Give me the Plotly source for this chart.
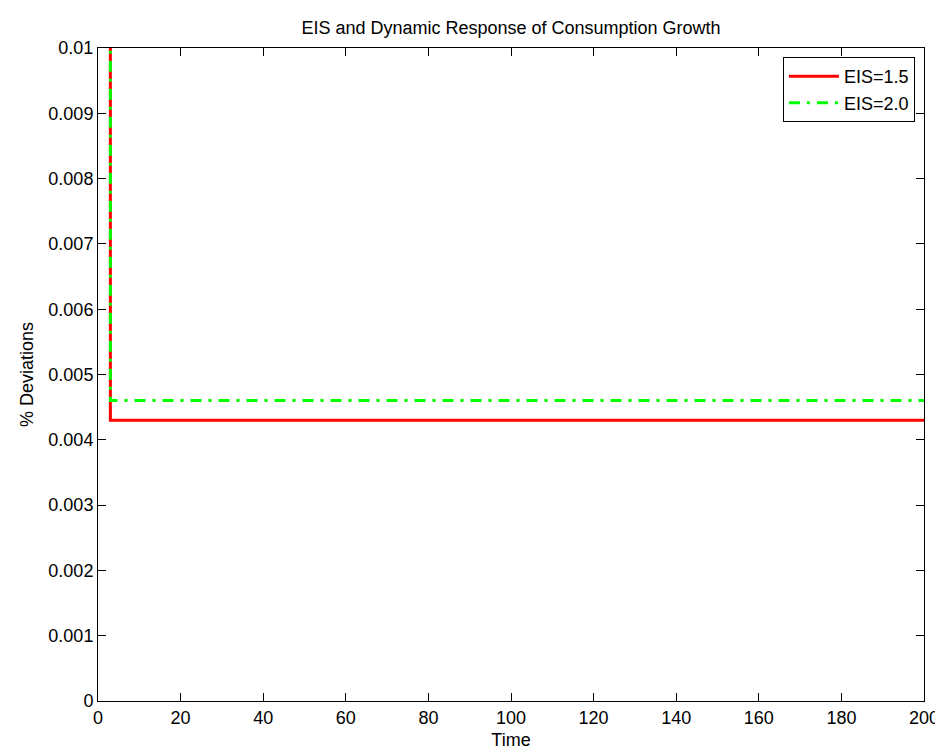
import plotly.graph_objects as go

# Data
time = [2, 3, 200]
eis_15 = [1.0, 0.0043, 0.0043]
eis_20 = [1.0, 0.0046, 0.0046]

x_ticks = [0, 20, 40, 60, 80, 100, 120, 140, 160, 180, 200]
y_ticks = [0, 0.001, 0.002, 0.003, 0.004, 0.005, 0.006, 0.007, 0.008, 0.009, 0.01]
y_tick_labels = ["0", "0.001", "0.002", "0.003", "0.004", "0.005",
                 "0.006", "0.007", "0.008", "0.009", "0.01"]

FONT = "Liberation Sans, Arial, Helvetica, sans-serif"
FS = 18

fig = go.Figure()
fig.add_trace(go.Scatter(
    x=time, y=eis_15, mode="lines", name="EIS=1.5",
    line=dict(color="#FF0000", width=3),
))
fig.add_trace(go.Scatter(
    x=time, y=eis_20, mode="lines", name="EIS=2.0",
    line=dict(color="#00FF00", width=3, dash="11px,7px,3px,7px"),
))

axis_common = dict(
    showgrid=False, zeroline=False,
    showline=True, linecolor="black", linewidth=1, mirror="ticks",
    ticks="inside", ticklen=8, tickcolor="black", tickwidth=1,
    tickfont=dict(family=FONT, size=FS, color="black"),
)

fig.update_layout(
    width=943, height=750,
    paper_bgcolor="white", plot_bgcolor="white",
    margin=dict(l=90, r=20, t=40, b=50),
    font=dict(family=FONT, size=FS, color="black"),
    title=dict(
        text="EIS and Dynamic Response of Consumption Growth",
        x=0.5, xanchor="center", xref="paper",
        y=1 - 20 / 750, yanchor="middle", yref="container",
        font=dict(family=FONT, size=FS, color="black"),
    ),
    xaxis=dict(
        range=[0, 200], tickvals=x_ticks,
        title=dict(text="Time", standoff=6, font=dict(family=FONT, size=FS)),
        **axis_common,
    ),
    yaxis=dict(
        range=[0, 0.01], tickvals=y_ticks, ticktext=y_tick_labels,
        title=dict(text="% Deviations", standoff=10, font=dict(family=FONT, size=FS)),
        **axis_common,
    ),
    legend=dict(
        x=0.989, xanchor="right", y=0.986, yanchor="top",
        bordercolor="black", borderwidth=1, bgcolor="white",
        font=dict(family=FONT, size=FS, color="black"),
        itemwidth=50, tracegroupgap=0,
    ),
    showlegend=True,
)

fig.write_html("out.html")
